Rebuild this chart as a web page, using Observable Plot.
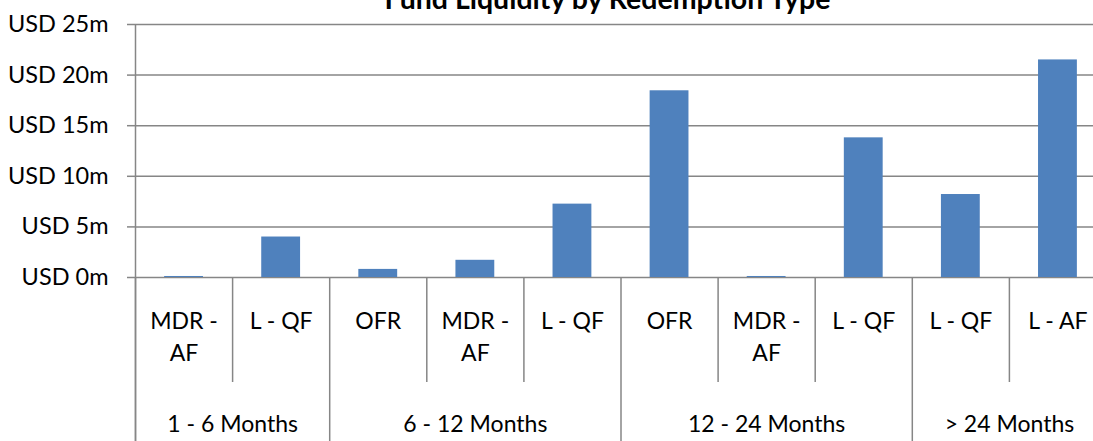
<!DOCTYPE html>
<html><head><meta charset="utf-8">
<script src="https://cdn.jsdelivr.net/npm/d3@7"></script>
<script src="https://cdn.jsdelivr.net/npm/@observablehq/plot@0.6"></script>
<style>html,body{margin:0;padding:0;background:#fff;overflow:hidden}</style>
</head><body><div id="chart"></div>
<script>
const title = "Fund Liquidity by Redemption Type";
const groups = ["1 - 6 Months", "6 - 12 Months", "12 - 24 Months", "> 24 Months"];
const groupSizes = [2, 3, 3, 2];
const types = ["MDR - AF", "L - QF", "OFR", "MDR - AF", "L - QF", "OFR", "MDR - AF", "L - QF", "L - QF", "L - AF"];
const values = [0.1, 4.0, 0.8, 1.7, 7.25, 18.45, 0.1, 13.8, 8.2, 21.5];
const yTicks = [0, 5, 10, 15, 20, 25];

const rows = types.map((t, i) => ({i, type: t, value: values[i]}));
const groupStarts = Array.from(d3.cumsum([0, ...groupSizes]));
const groupRows = groups.map((g, k) => ({group: g, start: groupStarts[k], end: groupStarts[k + 1]}));
const innerBounds = d3.range(1, types.length).filter(b => !groupStarts.includes(b));

const grid = "#868686";
const chart = Plot.plot({
  width: 1093, height: 441,
  marginLeft: 135, marginRight: 0, marginTop: 0, marginBottom: 0,
  x: {type: "linear", domain: [0, types.length], range: [135, 1106], axis: null},
  y: {domain: [0, 25], range: [277, 24], axis: null},
  style: {fontFamily: "Lato, sans-serif", fontSize: "23px", color: "#000", background: "#fff"},
  marks: [
    Plot.gridY(yTicks, {stroke: grid, strokeOpacity: 1, strokeWidth: 1.5}),
    Plot.axisY(yTicks, {tickSize: 8, tickPadding: 19, tickFormat: d => `USD ${d}m`, stroke: grid, strokeOpacity: 1, strokeWidth: 1.5, fontSize: 23.5, label: null}),
    Plot.rectY(rows, {x1: d => d.i + 0.3, x2: d => d.i + 0.7, y: "value", fill: "#4f81bd"}),
    Plot.ruleX([0], {stroke: grid, strokeWidth: 1.5, insetTop: 24}),
    Plot.ruleX(groupStarts, {stroke: grid, strokeWidth: 1.5, insetTop: 277}),
    Plot.ruleX(innerBounds, {stroke: grid, strokeWidth: 1.5, insetTop: 277, insetBottom: 59}),
    Plot.text(rows, {x: d => d.i + 0.5, text: "type", frameAnchor: "top", lineAnchor: "top", dy: 305.5, lineWidth: 3.5, lineHeight: 1.39, fontSize: 23, fill: "#000"}),
    Plot.text(groupRows, {x: d => (d.start + d.end) / 2, text: "group", frameAnchor: "top", lineAnchor: "top", dy: 415.5, fontSize: 23, fill: "#000"}),
    Plot.text([title], {frameAnchor: "top", lineAnchor: "bottom", dy: 8, dx: -7, fontWeight: "bold", fontSize: 28.5, fill: "#000"})
  ]
});
document.getElementById("chart").append(chart);
</script>
</body></html>
